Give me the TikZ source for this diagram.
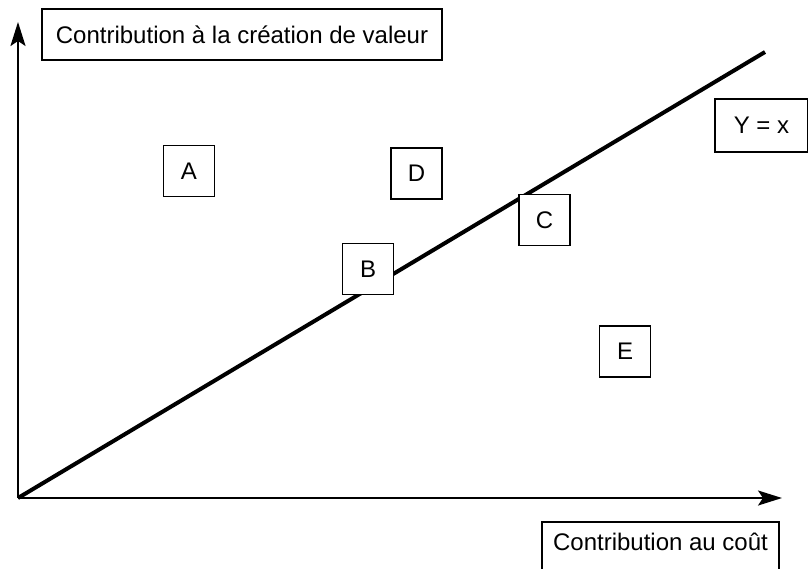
\documentclass[tikz,border=0pt]{standalone}
\usepackage{fontspec}
\setmainfont{Liberation Sans}
\usetikzlibrary{arrows.meta}
\begin{document}
\begin{tikzpicture}[x=1pt,y=-1pt,
  lbl/.style={draw, line width=1.5pt, inner sep=0pt, font=\fontsize{24}{28}\selectfont},
  letterbox/.style={lbl, minimum width=51pt, minimum height=51pt},
  axisline/.style={line width=2pt, arrows={-Stealth[length=24pt, width=15pt, inset=5pt]}},
  diag/.style={line width=4pt}]
\fill[white] (0,0) rectangle (808,568);
\useasboundingbox (0,0) rectangle (808,568);
\clip (0,0) rectangle (808,568);
% axes
\coordinate (O) at (18,498);
\coordinate (ytip) at (18,22);
\coordinate (xtip) at (782,498);
\coordinate (dend) at (765,52);
\draw[axisline] (O) -- (ytip);
\draw[axisline] (O) -- (xtip);
\draw[diag] (O) -- (dend);
% labels
\node[lbl, minimum width=400pt, minimum height=51pt] (ylab) at (242,34.5) {Contribution à la création de valeur};
\node[lbl, minimum width=93pt, minimum height=53pt] (yx) at (761.5,125.5) {Y = x};
\draw[line width=1.5pt, fill=white] (542,522) rectangle (779,580);
\node[font=\fontsize{24}{28}\selectfont, inner sep=0pt] (xlab) at (660.5,542) {Contribution au coût};
% letter boxes
\node[letterbox, fill=white] (A) at (189,171) {A};
\node[letterbox, fill=white] (D) at (416.5,173.5) {D};
\node[letterbox, fill=white] (B) at (368,269) {B};
\node[letterbox, fill=white] (C) at (544.5,220) {C};
\node[letterbox, fill=white] (E) at (625,351.5) {E};
\end{tikzpicture}
\end{document}
